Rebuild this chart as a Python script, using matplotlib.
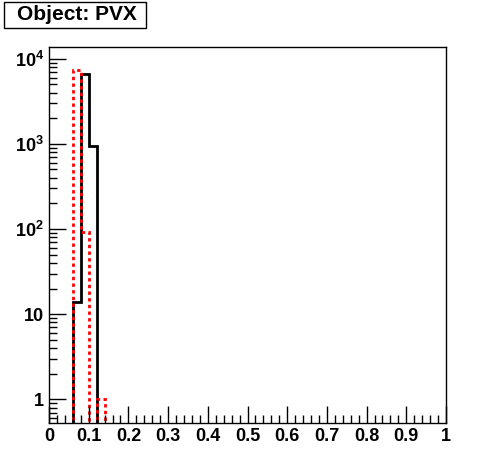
import numpy as np
import matplotlib.pyplot as plt
import matplotlib.patches as patches
from matplotlib.ticker import FixedLocator, FixedFormatter, MultipleLocator, LogLocator, NullFormatter

plt.rcParams['font.family'] = ['Liberation Sans', 'DejaVu Sans']
plt.rcParams['font.weight'] = 'bold'
plt.rcParams['mathtext.fontset'] = 'custom'
plt.rcParams['mathtext.rm'] = 'Liberation Sans:bold'
plt.rcParams['mathtext.bf'] = 'Liberation Sans:bold'
plt.rcParams['mathtext.default'] = 'bf'

# histogram contents (only non-empty region, bin width 0.02)
bin_edges = [0.06, 0.08, 0.10, 0.12, 0.14]
black_counts = [14, 6600, 930, 0]
red_counts = [7400, 93, 0, 1]

y_ticks = [1, 10, 100, 1000, 10000]
y_labels = ['1', '10', '$10^{2}$', '$10^{3}$', '$10^{4}$']
x_ticks = [0, 0.1, 0.2, 0.3, 0.4, 0.5, 0.6, 0.7, 0.8, 0.9, 1]
x_labels = ['0', '0.1', '0.2', '0.3', '0.4', '0.5', '0.6', '0.7', '0.8', '0.9', '1']

W, H = 496, 472
fig = plt.figure(figsize=(W / 100, H / 100), dpi=100)
ax = fig.add_axes([49 / W, 1 - 423 / H, (446 - 49) / W, (423 - 47) / H])

floor = 1e-2
ax.stairs(np.maximum(black_counts, floor), bin_edges, baseline=floor,
          color='black', lw=2)
ax.stairs(np.maximum(red_counts, floor), bin_edges, baseline=floor,
          color='red', lw=2, linestyle=(0, (1.2, 1.2)))

ax.set_yscale('log')
ax.set_xlim(0, 1)
ax.set_ylim(0.527, 1.37e4)

ax.xaxis.set_major_locator(FixedLocator(x_ticks))
ax.xaxis.set_major_formatter(FixedFormatter(x_labels))
ax.xaxis.set_minor_locator(MultipleLocator(0.02))
ax.yaxis.set_major_locator(FixedLocator(y_ticks))
ax.yaxis.set_major_formatter(FixedFormatter(y_labels))
ax.yaxis.set_minor_locator(LogLocator(base=10, subs=np.arange(2, 10)))
ax.yaxis.set_minor_formatter(NullFormatter())

ax.tick_params(which='both', direction='in', top=False, right=False,
               labelsize=13, width=1, colors='black')
ax.tick_params(which='major', length=12, pad=3.5)
ax.tick_params(which='minor', length=6)
for s in ax.spines.values():
    s.set_linewidth(1)

# title box
fig.patches.append(patches.Rectangle((4 / W, 1 - 28 / H), 142 / W, 26 / H,
                                     transform=fig.transFigure, facecolor='white',
                                     edgecolor='black', lw=1))
fig.text(77 / W, 1 - 15 / H, 'Object: PVX', fontsize=15, fontweight='bold',
         ha='center', va='center')

fig.savefig('out.png', dpi=100)
